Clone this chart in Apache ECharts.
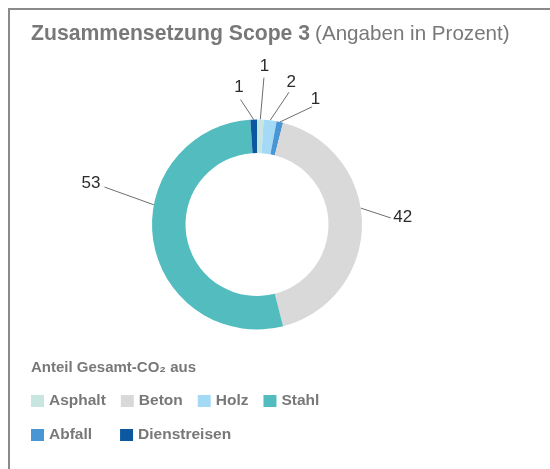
<!DOCTYPE html>
<html>
<head>
<meta charset="utf-8">
<style>
  html, body { margin: 0; padding: 0; background: #ffffff; }
  #chart { width: 550px; height: 469px; }
</style>
<script src="https://cdn.jsdelivr.net/npm/echarts@6/dist/echarts.min.js"></script>
</head>
<body>
<div id="chart"></div>
<script>
// Scope-3 composition, shares in percent, clockwise from 12 o'clock
const categories = ['Asphalt', 'Holz', 'Abfall', 'Beton', 'Stahl', 'Dienstreisen'];
const shares = [1, 2, 1, 42, 53, 1];
const sliceColors = ['#c8e5df', '#a5daf6', '#4a96d4', '#d9d9d9', '#52bcbe', '#0b58a0'];

// Legend rows
const legendRow1 = ['Asphalt', 'Beton', 'Holz', 'Stahl'];
const legendRow2 = ['Abfall', 'Dienstreisen'];

// Callout geometry per slice (degrees clockwise from top, radii in px)
// from: where the leader line leaves the ring (null = slice middle)
const callouts = [
  { from: null, angle: 2.7,    lineR: 147, textR: 158 },
  { from: null, angle: 13.6,   lineR: 136, textR: 146 },
  { from: null, angle: 25.1,   lineR: 130, textR: 138 },
  { from: 81,   angle: 87.2,   lineR: 134, textR: 146 },
  { from: 280.8, angle: 283.8, lineR: 157, textR: 171 },
  { from: null, angle: -7.5,   lineR: 126, textR: 138 }
];

const FONT = '"Liberation Sans", Arial, Helvetica, sans-serif';
const GREY = '#787878';
const CX = 257, CY = 224.5, R_IN = 71.5, R_OUT = 105;

const total = shares.reduce((a, b) => a + b, 0);
const midAngles = [];
(function () {
  let acc = 0;
  shares.forEach(v => { midAngles.push((acc + v / 2) / total * 360); acc += v; });
})();

function polar(angleDeg, r) {
  const a = angleDeg * Math.PI / 180;
  return [CX + r * Math.sin(a), CY - r * Math.cos(a)];
}

const chart = echarts.init(document.getElementById('chart'), null, { renderer: 'canvas' });

const legendBase = {
  orient: 'horizontal',
  icon: 'rect',
  itemWidth: 13,
  itemHeight: 12,
  padding: 0,
  selectedMode: false,
  textStyle: { fontFamily: FONT, fontSize: 15.5, fontWeight: 'bold', color: GREY }
};

chart.setOption({
  animation: false,
  backgroundColor: '#ffffff',
  color: sliceColors,
  title: {
    left: 31,
    top: 24,
    padding: 0,
    text: '{b|Zusammensetzung Scope 3} {n|(Angaben in Prozent)}',
    textStyle: {
      rich: {
        b: { fontFamily: FONT, fontSize: 21.2, fontWeight: 'bold', color: GREY },
        n: { fontFamily: FONT, fontSize: 20.6, fontWeight: 'normal', color: GREY }
      }
    }
  },
  graphic: [
    { type: 'line', shape: { x1: 9, y1: 9, x2: 550, y2: 9 }, style: { stroke: '#8a8a8a', lineWidth: 2 } },
    { type: 'line', shape: { x1: 9, y1: 8, x2: 9, y2: 469 }, style: { stroke: '#8a8a8a', lineWidth: 2 } },
    {
      type: 'text', left: 31, top: 360,
      style: { text: 'Anteil Gesamt-CO₂ aus', font: 'bold 15px ' + FONT, fill: GREY }
    }
  ],
  legend: [
    Object.assign({}, legendBase, { data: legendRow1, left: 31, top: 393, itemGap: 15 }),
    Object.assign({}, legendBase, { data: legendRow2, left: 31, top: 427, itemGap: 28 })
  ],
  series: [{
    type: 'pie',
    center: [CX, CY],
    radius: [R_IN, R_OUT],
    startAngle: 90,
    clockwise: true,
    avoidLabelOverlap: false,
    silent: true,
    itemStyle: { borderWidth: 0 },
    data: categories.map((name, i) => ({ name: name, value: shares[i] })),
    label: {
      show: true,
      position: 'outside',
      formatter: '{c}',
      fontFamily: FONT,
      fontSize: 17,
      color: '#2b2b2b'
    },
    labelLine: {
      show: true,
      length: 20,
      length2: 0,
      lineStyle: { color: '#6e6e6e', width: 1 }
    },
    labelLayout: function (params) {
      const i = params.dataIndex;
      const c = callouts[i];
      const start = polar(c.from === null ? midAngles[i] : c.from, R_OUT);
      const end = polar(c.angle, c.lineR);
      const txt = polar(c.angle, c.textR);
      return {
        x: txt[0],
        y: txt[1],
        align: 'center',
        verticalAlign: 'middle',
        labelLinePoints: [start, end, end]
      };
    }
  }]
});
</script>
</body>
</html>
